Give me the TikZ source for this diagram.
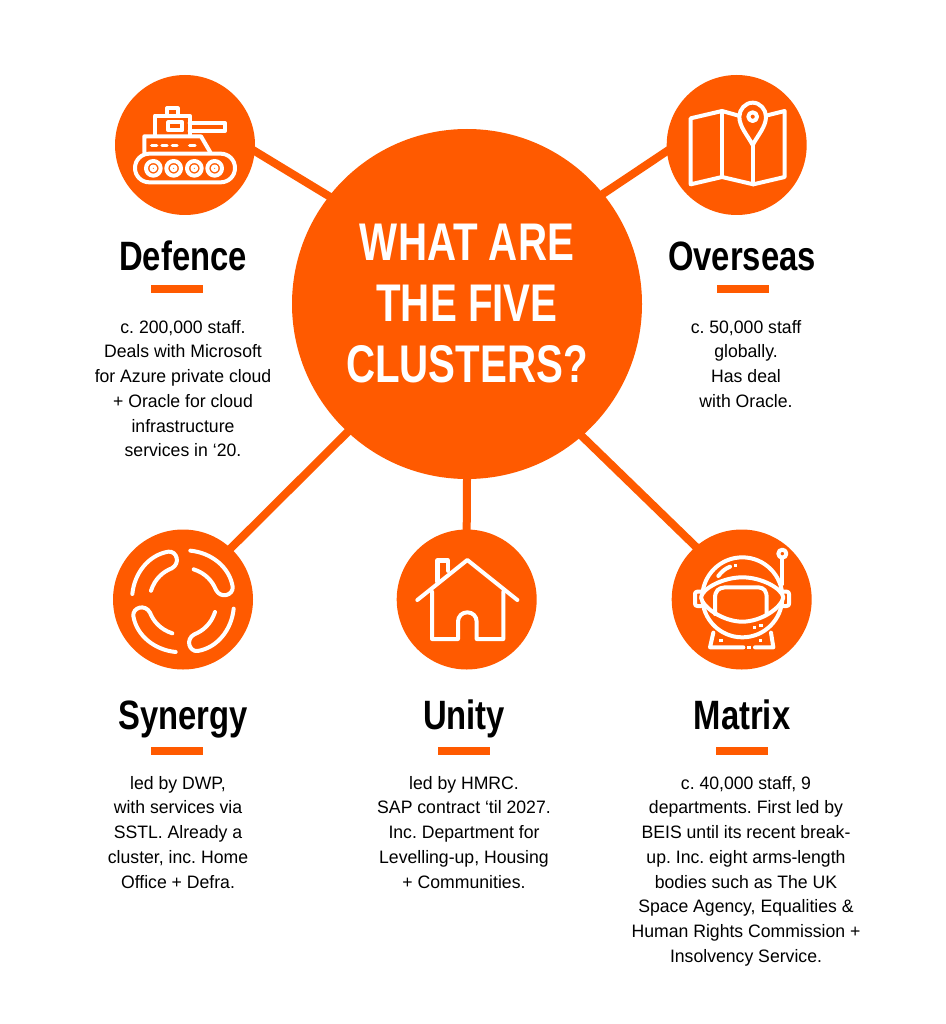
\documentclass[tikz,border=0pt]{standalone}
\usepackage{fontspec}
\setmainfont{Liberation Sans}
\newfontfamily\hubfont[FakeStretch=0.76]{Liberation Sans}
\newfontfamily\headfont[FakeStretch=0.8]{Liberation Sans}
\newfontfamily\blurbfont[FakeStretch=0.98]{Liberation Sans}
\definecolor{clusterorange}{RGB}{255,90,0}
\tikzset{
	hub/.style={circle,fill=clusterorange,text=white,minimum size=350pt,inner sep=0pt,outer sep=0pt,align=center,font=\hubfont\bfseries\fontsize{53}{61}\selectfont},
	bubble/.style={circle,fill=clusterorange,minimum size=140pt,inner sep=0pt,outer sep=0pt},
	heading/.style={anchor=base,inner sep=0pt,font=\headfont\bfseries\fontsize{41}{44}\selectfont},
	divider/.style={fill=clusterorange,minimum width=52pt,minimum height=8pt,inner sep=0pt},
	blurb/.style={anchor=north,inner sep=0pt,align=center,font=\blurbfont\frenchspacing\fontsize{18}{24.7}\selectfont},
	link/.style={draw=clusterorange,line width=8pt,shorten <=-3pt,shorten >=-3pt},
	icon/.style={draw=white,line width=4pt,line join=round,line cap=round},
	speck/.style={fill=white,draw=none}
}
\begin{document}
\begin{tikzpicture}[x=1pt,y=-1pt]
	\useasboundingbox (0,0) rectangle (945,1024);
	\node[hub] (hub) at (467,304) {WHAT ARE\\THE FIVE\\CLUSTERS?};
	\node[bubble] (defence) at (185,145) {};
	\node[bubble] (overseas) at (736.7,145) {};
	\node[bubble] (synergy) at (183,599.5) {};
	\node[bubble] (unity) at (466.7,599.5) {};
	\node[bubble] (matrix) at (741.7,599.5) {};
	\draw[link] (hub.142.4) -- (defence.-5.7);
	\draw[link] (hub.39.7) -- (overseas.185.7);
	\draw[link] (hub.227.6) -- (synergy.47.9);
	\draw[link] (hub.270) -- (unity.90);
	\draw[link] (hub.-49.4) -- (matrix.131.7);

	\node[heading] (defencetitle) at (183,270) {Defence};
	\node[heading] (overseastitle) at (742,270) {Overseas};
	\node[heading] (synergytitle) at (183,729) {Synergy};
	\node[heading] (unitytitle) at (464,729) {Unity};
	\node[heading] (matrixtitle) at (742,729) {Matrix};

	\node[divider] (defencebar) at (177,289) {};
	\node[divider] (overseasbar) at (743,289) {};
	\node[divider] (synergybar) at (177,751) {};
	\node[divider] (unitybar) at (464,751) {};
	\node[divider] (matrixbar) at (742,751) {};

	\node[blurb] (defencetext) at (183,320) {c. 200,000 staff.\\Deals with Microsoft\\for Azure private cloud\\+ Oracle for cloud\\infrastructure\\services in ‘20.};
	\node[blurb] (overseastext) at (746,320) {c. 50,000 staff\\globally.\\Has deal\\with Oracle.};
	\node[blurb] (synergytext) at (178,776) {led by DWP,\\with services via\\SSTL. Already a\\cluster, inc. Home\\Office + Defra.};
	\node[blurb] (unitytext) at (464,776) {led by HMRC.\\SAP contract ‘til 2027.\\Inc. Department for\\Levelling-up, Housing\\+ Communities.};
	\node[blurb] (matrixtext) at (746,776) {c. 40,000 staff, 9\\departments. First led by\\BEIS until its recent break-\\up. Inc. eight arms-length\\bodies such as The UK\\Space Agency, Equalities \&\\Human Rights Commission +\\Insolvency Service.};

	% tank
	\begin{scope}[shift={(105,65)},scale=1/3]
		\draw[icon] (186,152) -- (186,130) -- (218,130) -- (218,152);
		\draw[icon] (150,212) -- (150,152) -- (254,152) -- (254,212);
		\draw[icon] (190,172) rectangle (232,196);
		\draw[icon] (254,174) -- (360,174) -- (360,198) -- (254,198);
		\draw[icon] (118,262) -- (118,214) -- (288,214) -- (316,262);
		\draw[icon,line width=3.4pt] (140,242) -- (155,242) (171,242) -- (186,242) (202,242) -- (216,242) (254,242) -- (270,242);
		\draw[icon] (133,266) -- (347,266) .. controls (371,266) and (390,285) .. (390,309) .. controls (390,333) and (371,352) .. (347,352) -- (133,352) .. controls (109,352) and (90,333) .. (90,309) .. controls (90,285) and (109,266) .. cycle;
		\foreach \wx in {145,206,268,329}{
			\draw[icon] (\wx,310) circle (22);
			\draw[icon,line width=3pt] (\wx,310) circle (7);
		}
	\end{scope}

	% map
	\begin{scope}[shift={(660,65)},scale=1/3]
		\draw[icon] (236,152) -- (186,138) -- (92,160) -- (92,358) -- (186,336) -- (280,358) -- (374,336) -- (374,138) -- (318,152);
		\draw[icon] (186,138) -- (186,336);
		\draw[icon] (280,240) -- (280,358);
		\draw[icon] (278,240) .. controls (262,210) and (238,185) .. (238,155) .. controls (238,133) and (256,113) .. (278,113) .. controls (300,113) and (318,133) .. (318,155) .. controls (318,185) and (294,210) .. cycle;
		\draw[icon] (278,155) circle (13);
	\end{scope}

	% rings
	\begin{scope}[shift={(105,520)},scale=1/3]
		\foreach \turn in {0,-90,180,90}{
			\draw[icon,rotate around={\turn:(234,244)}] (82,222) .. controls (88,160) and (130,105) .. (190,95) .. controls (215,92) and (228,130) .. (200,145) .. controls (175,155) and (150,175) .. (138,212);
		}
	\end{scope}

	% house
	\begin{scope}[shift={(390,520)},scale=1/3]
		\draw[icon] (82,240) -- (232,120) -- (382,240);
		\draw[icon] (126,215) -- (126,357) -- (204,357) -- (204,305) .. controls (204,289) and (216,277) .. (232,277) .. controls (248,277) and (260,289) .. (260,305) -- (260,357) -- (340,357) -- (340,215);
		\draw[icon,line width=4.4pt] (142,185) -- (142,122) -- (174,122) -- (174,152);
	\end{scope}

	% helmet
	\begin{scope}[shift={(665,520)},scale=1/3]
		\draw[icon] (232,232) circle (120);
		\draw[icon,fill=clusterorange] (108,232) .. controls (112,205) and (175,172) .. (232,172) .. controls (290,172) and (350,205) .. (355,232) .. controls (350,262) and (290,305) .. (232,305) .. controls (175,305) and (112,262) .. cycle;
		\draw[icon] (150,282) -- (150,235) .. controls (150,212) and (160,204) .. (180,202) -- (280,202) .. controls (298,204) and (305,212) .. (305,235) -- (305,282);
		\draw[icon] (108,215) -- (97,215) .. controls (92,215) and (90,218) .. (90,222) -- (90,251) .. controls (90,255) and (92,258) .. (97,258) -- (108,258);
		\draw[icon] (355,215) -- (365,215) .. controls (370,215) and (372,218) .. (372,222) -- (372,251) .. controls (372,255) and (370,258) .. (365,258) -- (355,258);
		\draw[icon] (352,115) -- (352,192);
		\draw[icon] (352,101) circle (12);
		\draw[icon] (160,168) .. controls (170,155) and (180,146) .. (195,140);
		\draw[icon] (145,338) -- (135,382) -- (235,382) (270,382) -- (325,382) -- (318,338);
		\foreach \sx/\sy in {212/137,252/382,168/362,287/362,268/322,288/317}{
			\fill[speck] (\sx-5,\sy-5) rectangle (\sx+5,\sy+5);
		}
	\end{scope}
\end{tikzpicture}
\end{document}
